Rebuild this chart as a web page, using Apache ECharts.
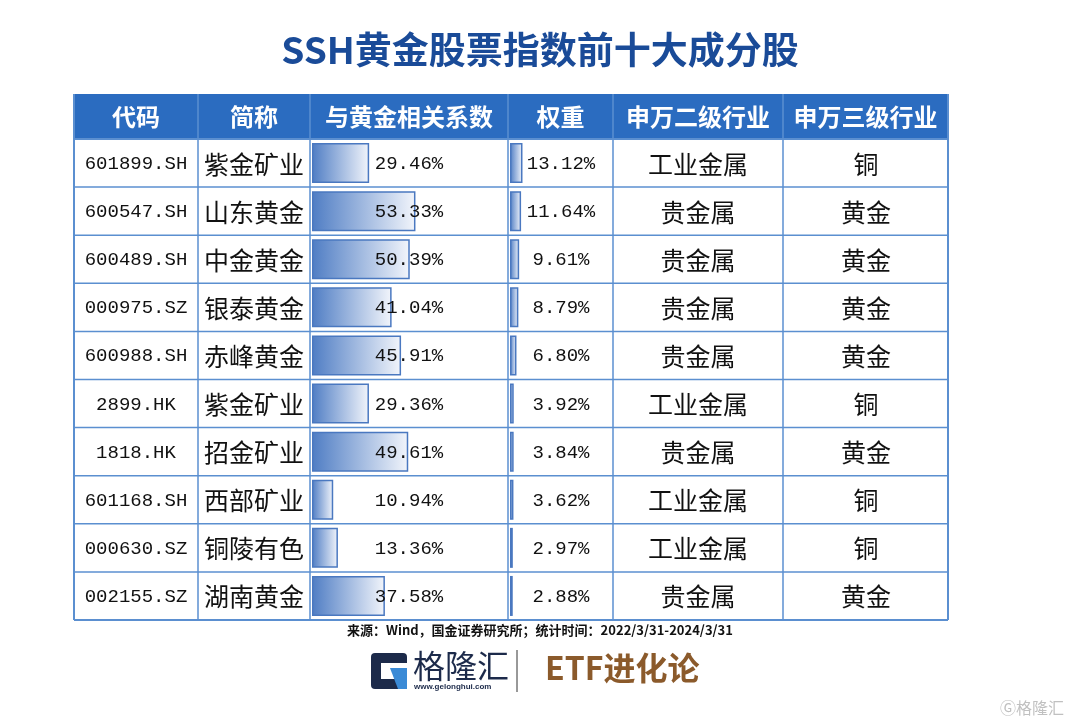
<!DOCTYPE html>
<html><head><meta charset="utf-8">
<script src="https://cdn.jsdelivr.net/npm/echarts@6/dist/echarts.min.js"></script>
<style>html,body{margin:0;padding:0;background:#fff}#c{width:1080px;height:724px}</style>
</head><body><div id="c"></div>
<script>
const headers = ['代码','简称','与黄金相关系数','权重','申万二级行业','申万三级行业'];
const codes = ['601899.SH','600547.SH','600489.SH','000975.SZ','600988.SH','2899.HK','1818.HK','601168.SH','000630.SZ','002155.SZ'];
const names = ['紫金矿业','山东黄金','中金黄金','银泰黄金','赤峰黄金','紫金矿业','招金矿业','西部矿业','铜陵有色','湖南黄金'];
const corr = [29.46,53.33,50.39,41.04,45.91,29.36,49.61,10.94,13.36,37.58];
const weight = [13.12,11.64,9.61,8.79,6.80,3.92,3.84,3.62,2.97,2.88];
const sw2 = ['工业金属','贵金属','贵金属','贵金属','贵金属','工业金属','贵金属','工业金属','工业金属','贵金属'];
const sw3 = ['铜','黄金','黄金','黄金','黄金','铜','黄金','铜','铜','黄金'];

const colX = [74,198,310,508,613,783,948];
const top0 = 139, rowH = 48.1, headTop = 94;
const cjk = '"Noto Sans CJK SC", sans-serif';
const mono = '"Liberation Mono","DejaVu Sans Mono", monospace';
const lineC = '#5b8fd0';
const g = [];
g.push({type:'text', left:'center', top:31, style:{text:'SSH黄金股票指数前十大成分股', font:'bold 37px '+cjk, fill:'#1a4b98'}});
g.push({type:'rect', shape:{x:74,y:headTop,width:874,height:top0-headTop}, style:{fill:'#2b6cc0'}});
headers.forEach((h,i)=>{
  const cx=(colX[i]+colX[i+1])/2;
  g.push({type:'text', x:cx, y:(headTop+top0)/2, style:{text:h, font:'bold 24px '+cjk, fill:'#fff', align:'center', verticalAlign:'middle'}});
});
for(let r=0;r<=10;r++){
  const y=top0+r*rowH;
  g.push({type:'line', shape:{x1:74,y1:y,x2:948,y2:y}, style:{stroke:lineC,lineWidth:r==0||r==10?2:1.5}, z:10});
}
colX.forEach((x,i)=>{
  g.push({type:'line', shape:{x1:x,y1:headTop,x2:x,y2:top0+10*rowH}, style:{stroke:lineC,lineWidth:i==0||i==6?2:1.5}, z:10});
});
const rowTexts = [codes,names,corr.map(v=>v.toFixed(2)+'%'),weight.map(v=>v.toFixed(2)+'%'),sw2,sw3];
const centers = [136,254,409,561,698,866];
for(let r=0;r<10;r++){
  const cy=top0+(r+0.5)*rowH+1;
  rowTexts.forEach((arr,i)=>{
    const isNum = i==0||i==2||i==3;
    g.push({type:'text', x:centers[i], y:cy, z:20, style:{text:arr[r], font:(isNum?'19px '+mono:'25px '+cjk), fill:'#111', align:'center', verticalAlign:'middle'}});
  });
}
g.push({type:'text', left:'center', top:624, style:{text:'来源：Wind，国金证券研究所；统计时间：2022/3/31-2024/3/31', font:'bold 13px '+cjk, fill:'#111'}});
g.push({type:'rect', shape:{x:371,y:653,width:36,height:36,r:4}, style:{fill:'#1c2a4a'}});
g.push({type:'rect', shape:{x:381,y:663,width:26,height:16}, style:{fill:'#fff'}});
g.push({type:'polygon', shape:{points:[[390,668],[407,668],[407,689],[398,689]]}, style:{fill:'#3a8ad6'}});
g.push({type:'text', x:413, y:650, style:{text:'格隆汇', font:'32px '+cjk, fill:'#1c2a4a'}});
g.push({type:'text', x:414, y:683, style:{text:'www.gelonghui.com', font:'bold 8px sans-serif', fill:'#1c2a4a'}});
g.push({type:'line', shape:{x1:517,y1:650,x2:517,y2:692}, style:{stroke:'#333',lineWidth:1}});
g.push({type:'text', x:545, y:652, style:{text:'ETF进化论', font:'bold 32px '+cjk, fill:'#8b5a2b'}});
g.push({type:'text', x:1000, y:700, style:{text:'Ⓖ格隆汇', font:'16px '+cjk, fill:'rgba(150,150,150,0.6)'}});

const grad = {type:'linear',x:0,y:0,x2:1,y2:0,colorStops:[{offset:0,color:'#4f7dc4'},{offset:1,color:'#f2f5fb'}]};
const ax = (max)=>({type:'value',max:max,min:0,show:false});
const ay = (i)=>({type:'category',gridIndex:i,data:codes,inverse:true,show:false});
const bs = (i,data)=>({type:'bar',xAxisIndex:i,yAxisIndex:i,data:data,barWidth:40,silent:true,
  itemStyle:{color:grad,borderColor:'#4a78c0',borderWidth:1.5}});
const chart = echarts.init(document.getElementById('c'));
chart.setOption({
  animation:false,
  grid:[{left:312,top:top0,width:194,height:rowH*10},{left:510,top:top0,width:100,height:rowH*10}],
  xAxis:[Object.assign(ax(100),{gridIndex:0}),Object.assign(ax(105),{gridIndex:1})],
  yAxis:[ay(0),ay(1)],
  series:[bs(0,corr),bs(1,weight)],
  graphic:g
});
</script></body></html>
